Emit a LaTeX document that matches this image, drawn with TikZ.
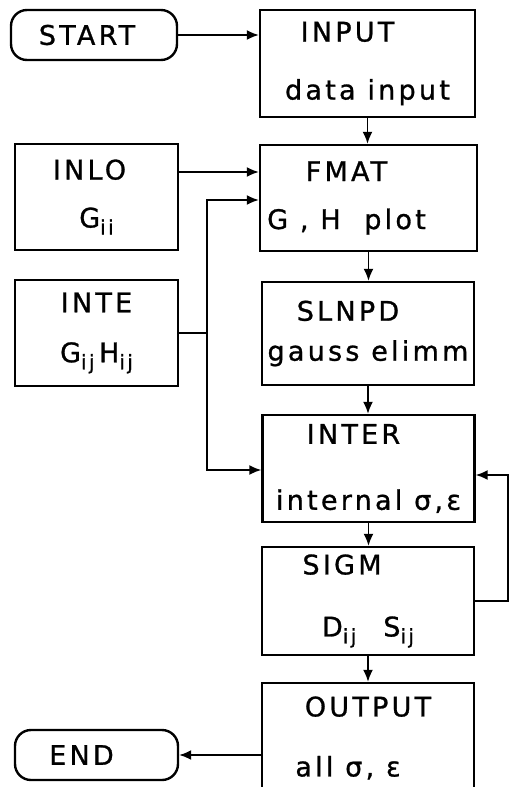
\documentclass[tikz,border=0pt]{standalone}
\usepackage{fontspec}
\setmainfont[LetterSpace=12,FakeBold=1]{DejaVu Sans}
\usetikzlibrary{arrows.meta,positioning}

\newcommand{\lsub}[1]{\raisebox{-7pt}{\fontsize{20}{20}\selectfont #1}}

\begin{document}
\begin{tikzpicture}[
  x=1pt, y=-1pt,
  font=\fontsize{27}{30}\selectfont,
  box/.style={draw, line width=2.4pt, align=center, inner sep=0pt,
    minimum width=212pt, minimum height=106pt},
  side/.style={box, minimum width=163pt},
  term/.style={draw, line width=2.4pt, rounded corners=16pt, inner sep=0pt,
    minimum width=166pt, minimum height=50pt},
  tip/.tip={Latex[length=12pt,width=10pt]},
  arr/.style={-tip, line width=1.8pt},
  wire/.style={line width=1.8pt}
]
\useasboundingbox (0,0) rectangle (510,787);
\clip (0,0) rectangle (510,787);

\node[term] (start) at (94,35) {\hspace*{-14pt}START};
\node[box, minimum width=215pt, minimum height=107pt] (input) at (367.5,63.5)
  {\hspace*{-40pt}INPUT\\[28pt]data input};
\node[side] (inlo) at (96.5,197) {\hspace*{-14pt}INLO\\[18pt]G\lsub{ii}};
\node[box, minimum width=217pt] (fmat) at (368.5,198)
  {\hspace*{-44pt}FMAT\\[18pt]\hspace*{-44pt}G , H \ plot};
\node[side] (inte) at (96.5,333) {INTE\\[20pt]G\lsub{ij}\,H\lsub{ij}};
\node[box, minimum height=103pt] (slnpd) at (368,333.5)
  {\hspace*{-40pt}SLNPD\\[10pt]gauss elimm};
\node[box, minimum height=107pt] (inter) at (368.5,468.5)
  {\hspace*{-30pt}INTER\\[36pt]internal σ,ε};
\node[box, minimum height=108pt] (sigm) at (368,601)
  {\hspace*{-52pt}SIGM\\[32pt]D\lsub{ij}\quad S\lsub{ij}};
\node[box, minimum height=110pt] (output) at (368,738)
  {OUTPUT\\[30pt]\hspace*{-40pt}all σ, ε};
\node[term, minimum width=163pt] (end) at (96.5,755) {\hspace*{-30pt}END};

\coordinate (bustop) at (207,200);
\coordinate (busbot) at (207,470);
\coordinate (loopx) at (508,0);

\draw[arr] (start.east) -- (start.east -| input.west);
\draw[arr] (input.south) -- (input.south |- fmat.north);
\draw[arr] ([yshift=25pt]inlo.east) -- ([yshift=25pt]inlo.east -| fmat.west);
\draw[arr, tip-tip]
  (bustop -| fmat.west) -- (bustop) -- (busbot) -- (busbot -| inter.west);
\draw[wire] (inte.east) -- (inte.east -| bustop);
\draw[arr] (fmat.south) -- (fmat.south |- slnpd.north);
\draw[arr] (slnpd.south) -- (slnpd.south |- inter.north);
\draw[arr] (inter.south) -- (inter.south |- sigm.north);
\draw[arr] (sigm.south) -- (sigm.south |- output.north);
\draw[arr] (sigm.east) -- (sigm.east -| loopx)
  -- ([yshift=-6.5pt]inter.east -| loopx) -- ([yshift=-6.5pt]inter.east);
\draw[arr] (output.west |- end) -- (end.east);

\end{tikzpicture}
\end{document}
